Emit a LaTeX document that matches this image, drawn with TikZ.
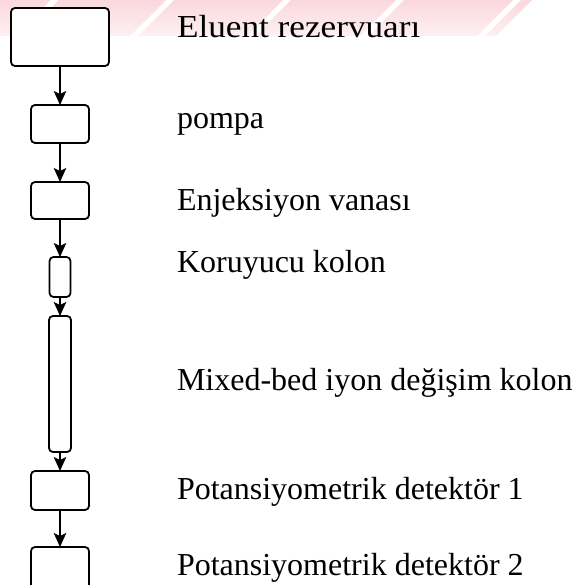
\documentclass[tikz,border=0pt]{standalone}
\usepackage{fontspec}
\setmainfont{Liberation Serif}
\usetikzlibrary{arrows.meta}
\definecolor{wmtop}{RGB}{250,216,222}
\definecolor{wmbot}{RGB}{254,240,242}
\begin{document}
\begin{tikzpicture}[x=1bp,y=-1bp,
  unit/.style={draw=black, line width=1.8bp, rounded corners=4bp, inner sep=0pt, outer sep=0pt, fill=white},
  flow/.style={draw=black, line width=1.5bp, -{Stealth[length=14bp,width=12.5bp,inset=3bp]}},
  txt/.style={anchor=base west, inner sep=0pt, outer sep=0pt, font=\fontsize{32bp}{38bp}\selectfont}
]
\useasboundingbox (0,0) rectangle (574,585);
\clip (0,0) rectangle (574,585);

% faint striped band along the top
\foreach \a/\b in {-40/51, 59/166, 174/283, 291/396, 404/513, 521/532}
  \shade[top color=wmtop, bottom color=wmbot]
    (\a,0) -- (\b,0) -- (\b-36,36) -- (\a-36,36) -- cycle;

% units of the system
\node[unit, minimum width=98bp, minimum height=58bp] (b1) at (60,37) {};
\node[unit, minimum width=58bp, minimum height=38bp] (b2) at (60,124) {};
\node[unit, minimum width=58bp, minimum height=37bp] (b3) at (60,200.5) {};
\node[unit, minimum width=21bp, minimum height=40bp] (b4) at (60,277) {};
\node[unit, minimum width=22bp, minimum height=136bp] (b5) at (60,384) {};
\node[unit, minimum width=58bp, minimum height=39bp] (b6) at (60,490.5) {};
\node[unit, minimum width=58bp, minimum height=46bp] (b7) at (60,570) {};

% flow between units
\draw[flow] (b1.south) -- (b2.north);
\draw[flow] (b2.south) -- (b3.north);
\draw[flow] (b3.south) -- (b4.north);
\draw[flow] (b4.south) -- (b5.north);
\draw[flow] (b5.south) -- (b6.north);
\draw[flow] (b6.south) -- (b7.north);

% names of the units
\node[txt, xscale=1.1] (t1) at (177,38) {Eluent rezervuarı};
\node[txt] (t2) at (177,129) {pompa};
\node[txt] (t3) at (177,210) {Enjeksiyon vanası};
\node[txt] (t4) at (177,272) {Koruyucu kolon};
\node[txt] (t5) at (177,390) {Mixed-bed iyon değişim kolon};
\node[txt] (t6) at (177,499) {Potansiyometrik detektör 1};
\node[txt] (t7) at (177,575) {Potansiyometrik detektör 2};
\end{tikzpicture}
\end{document}
